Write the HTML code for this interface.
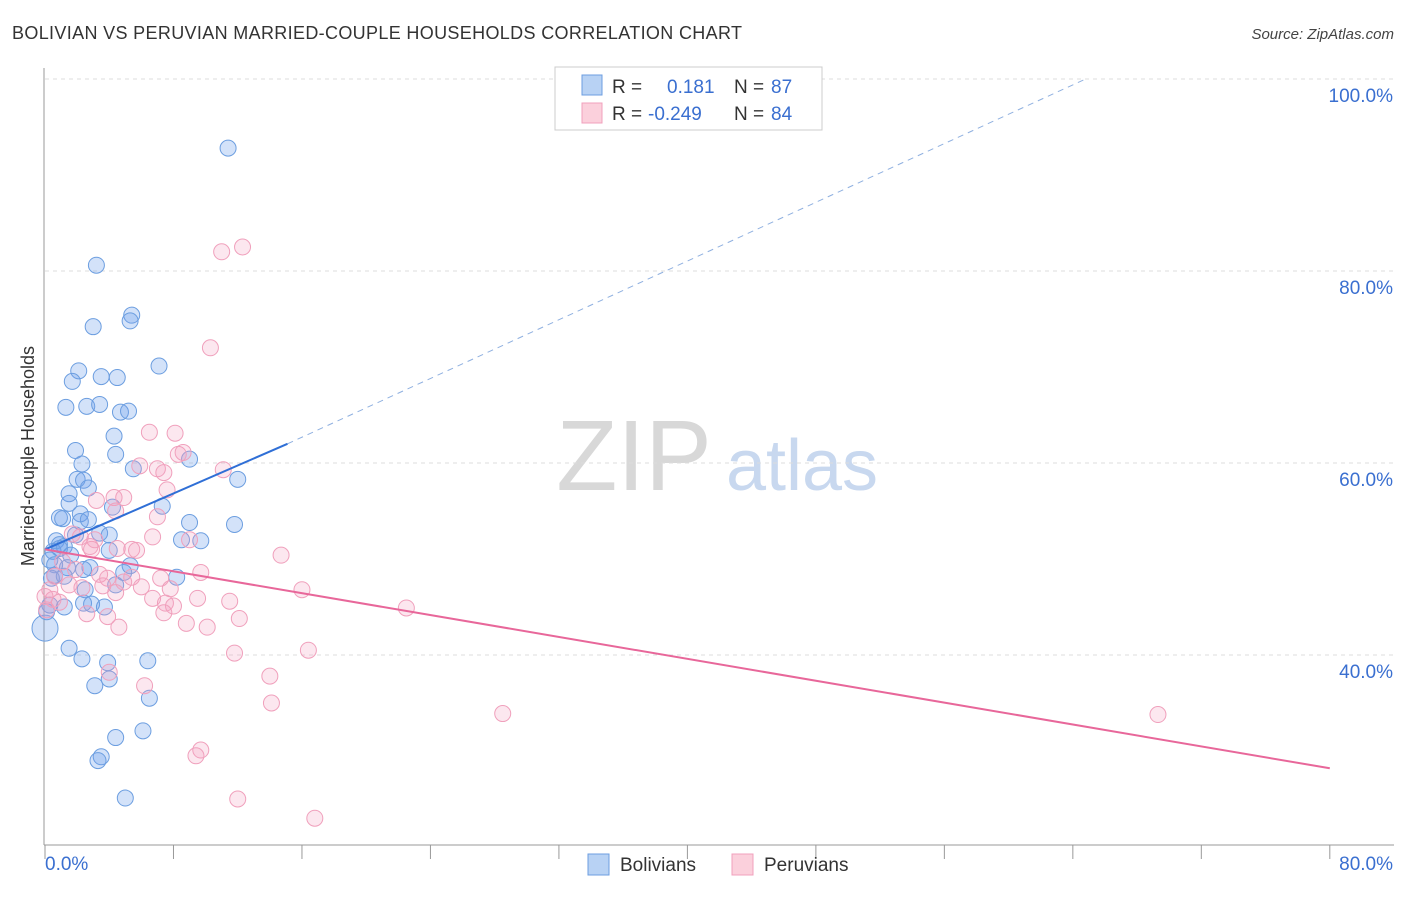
<!DOCTYPE html>
<html><head><meta charset="utf-8">
<style>
body{margin:0;background:#fff;font-family:"Liberation Sans",sans-serif;}
svg text{font-family:"Liberation Sans",sans-serif;}
</style></head>
<body>
<svg id="chart" width="1406" height="892" viewBox="0 0 1406 892" xmlns="http://www.w3.org/2000/svg">
<text x="12" y="39" font-size="18" fill="#333" textLength="730">BOLIVIAN VS PERUVIAN MARRIED-COUPLE HOUSEHOLDS CORRELATION CHART</text>
<text x="1394" y="39" font-size="15" fill="#444" font-style="italic" text-anchor="end">Source: ZipAtlas.com</text>
<g>
<text x="634" y="490" font-size="100" fill="#d8d8d8" font-family="Liberation Serif,serif" text-anchor="middle">ZIP</text>
<text x="802" y="490" font-size="72" fill="#c8d8ef" text-anchor="middle">atlas</text>
</g>
<g id="grid"></g>
<g id="axes"></g>
<g id="points"></g>
<g id="trends"></g>
<text transform="translate(34,456) rotate(-90)" font-size="18" fill="#333" text-anchor="middle">Married-couple Households</text>
<g>
<rect x="555" y="67" width="267" height="63" fill="#fff" stroke="#ccc"/>
<rect x="582" y="75" width="20" height="20" fill="#b8d2f4" stroke="#6c9ee0"/>
<rect x="582" y="103" width="20" height="20" fill="#fbd0dc" stroke="#f0a0bc"/>
<text x="612" y="93" font-size="19" fill="#333">R = </text><text x="667" y="93" font-size="19" fill="#3a6fd0">0.181</text>
<text x="734" y="93" font-size="19" fill="#333">N = </text><text x="771" y="93" font-size="19" fill="#3a6fd0">87</text>
<text x="612" y="120" font-size="19" fill="#333">R = </text><text x="648" y="120" font-size="19" fill="#3a6fd0">-0.249</text>
<text x="734" y="120" font-size="19" fill="#333">N = </text><text x="771" y="120" font-size="19" fill="#3a6fd0">84</text>
</g>
<g>
<rect x="588" y="854" width="21" height="21" fill="#b8d2f4" stroke="#6c9ee0"/>
<text x="620" y="871" font-size="19" fill="#333">Bolivians</text>
<rect x="732" y="854" width="21" height="21" fill="#fbd0dc" stroke="#f0a0bc"/>
<text x="764" y="871" font-size="19" fill="#333">Peruvians</text>
</g>
</svg>
<script>
const yTicks=[40,60,80,100];
const yTickLabels=["40.0%","60.0%","80.0%","100.0%"];
const xTickVals=[0,8,16,24,32,40,48,56,64,72,80];
const xEndLabels=["0.0%","80.0%"];
const blueX=[11.4,3.2,3.0,5.4,5.3,7.1,2.1,1.7,3.5,4.5,1.3,2.6,3.4,4.7,5.2,4.3,1.9,4.4,2.3,5.5,9.0,12.0,2.0,2.4,2.7,1.5,1.5,4.2,7.3,0.9,1.1,2.2,2.2,9.0,11.8,0.7,0.9,0.5,1.2,1.9,3.4,4.0,8.5,9.7,0.3,0.6,1.4,2.8,4.9,0.4,1.2,2.4,8.2,4.4,2.5,0.3,1.2,2.4,2.9,3.7,1.5,2.3,3.9,6.4,3.1,4.0,6.5,6.1,4.4,3.5,3.3,5.0,0.0,0.1,0.6,0.9,1.6,5.3,4.0,2.7];
const blueY=[92.8,80.6,74.2,75.4,74.8,70.1,69.6,68.5,69.0,68.9,65.8,65.9,66.1,65.3,65.4,62.8,61.3,60.9,59.9,59.4,60.4,58.3,58.3,58.2,57.4,56.8,55.8,55.4,55.5,54.3,54.2,54.7,53.9,53.8,53.6,51.9,51.5,50.8,51.3,52.5,52.7,52.5,52.0,51.9,49.9,49.4,49.1,49.1,48.6,48.0,48.2,48.9,48.1,47.3,46.8,45.2,45.0,45.4,45.3,45.0,40.7,39.6,39.2,39.4,36.8,37.5,35.5,32.1,31.4,29.4,29.0,25.1,42.8,44.5,48.3,51.1,50.4,49.3,50.9,54.1];
const pinkX=[12.3,11.0,10.3,6.5,8.1,8.6,8.3,7.0,7.4,5.9,11.1,7.6,4.9,3.2,4.3,7.0,4.4,6.7,5.4,4.5,5.7,2.8,3.1,14.7,1.7,2.2,2.9,9.0,1.1,1.9,3.4,0.6,3.9,4.9,7.2,5.4,9.7,1.5,3.6,2.3,6.0,4.4,6.7,7.5,7.8,9.5,11.5,8.0,0.5,0.9,0.3,0.0,3.9,7.4,8.8,12.1,4.6,10.1,16.0,22.5,16.4,11.8,14.0,4.0,6.2,14.1,28.5,69.3,9.7,9.4,12.0,16.8,0.1,2.6];
const pinkY=[82.5,82.0,72.0,63.2,63.1,61.1,60.9,59.4,59.0,59.7,59.3,57.2,56.4,56.1,56.4,54.4,55.0,52.3,51.0,51.1,50.9,51.3,52.0,50.4,52.6,52.3,51.0,52.0,49.7,48.9,48.4,48.2,48.0,47.6,48.0,48.1,48.6,47.3,47.2,47.0,47.1,46.5,45.9,45.4,46.9,45.9,45.6,45.1,45.8,45.5,46.8,46.1,44.0,44.4,43.3,43.8,42.9,42.9,46.8,44.9,40.5,40.2,37.8,38.2,36.8,35.0,33.9,33.8,30.1,29.5,25.0,23.0,44.7,44.3];
const blueTrend=[0,51.0,15.1,62.0];
const blueDash=[15.1,62.0,64.8,100];
const pinkTrend=[0,51.0,80,28.2];

const NS="http://www.w3.org/2000/svg";
const xs=v=>45+v*16.06;
const ys=v=>655-(v-40)*9.6;
function mk(tag,attrs,parent){const e=document.createElementNS(NS,tag);for(const k in attrs)e.setAttribute(k,attrs[k]);parent.appendChild(e);return e;}
const grid=document.getElementById('grid'),axes=document.getElementById('axes'),pts=document.getElementById('points'),tr=document.getElementById('trends');
yTicks.forEach((t,i)=>{
 const l=mk('line',{x1:45,x2:1394,y1:ys(t),y2:ys(t),stroke:'#ddd','stroke-dasharray':'4,4'},grid);
 
 
 const tx=mk('text',{x:1393,y:ys(t)+23,'font-size':19,fill:'#3a6fd0','text-anchor':'end'},axes);
 tx.textContent=yTickLabels[i];
 
 
});
let a=mk('line',{x1:44,x2:44,y1:68,y2:845,stroke:'#999'},axes);


a=mk('line',{x1:44,x2:1394,y1:845,y2:845,stroke:'#999'},axes);


xTickVals.forEach(w=>{
 const t=mk('line',{x1:xs(w),x2:xs(w),y1:845,y2:859,stroke:'#999'},axes);
 
 });
let t0=mk('text',{x:45,y:870,'font-size':19,fill:'#3a6fd0'},axes);t0.textContent=xEndLabels[0];


let t1=mk('text',{x:1393,y:870,'font-size':19,fill:'#3a6fd0','text-anchor':'end'},axes);t1.textContent=xEndLabels[1];


blueX.forEach((x,i)=>{
 const c=mk('circle',{cx:xs(x),cy:ys(blueY[i]),r:i==72?13:8,fill:'rgba(110,160,235,0.3)',stroke:'#6c9ee0','stroke-width':1},pts);
 
 
});
pinkX.forEach((x,i)=>{
 const c=mk('circle',{cx:xs(x),cy:ys(pinkY[i]),r:8,fill:'rgba(245,160,190,0.25)',stroke:'#f0a0bc','stroke-width':1},pts);
 
 
});
let l=mk('line',{x1:xs(blueTrend[0]),y1:ys(blueTrend[1]),x2:xs(blueTrend[2]),y2:ys(blueTrend[3]),stroke:'#2f6fd6','stroke-width':2},tr);


l=mk('line',{x1:xs(blueDash[0]),y1:ys(blueDash[1]),x2:xs(blueDash[2]),y2:ys(blueDash[3]),stroke:'#8fb0e0','stroke-width':1,'stroke-dasharray':'6,5'},tr);


l=mk('line',{x1:xs(pinkTrend[0]),y1:ys(pinkTrend[1]),x2:xs(pinkTrend[2]),y2:ys(pinkTrend[3]),stroke:'#e8679a','stroke-width':2},tr);


</script>
</body></html>
